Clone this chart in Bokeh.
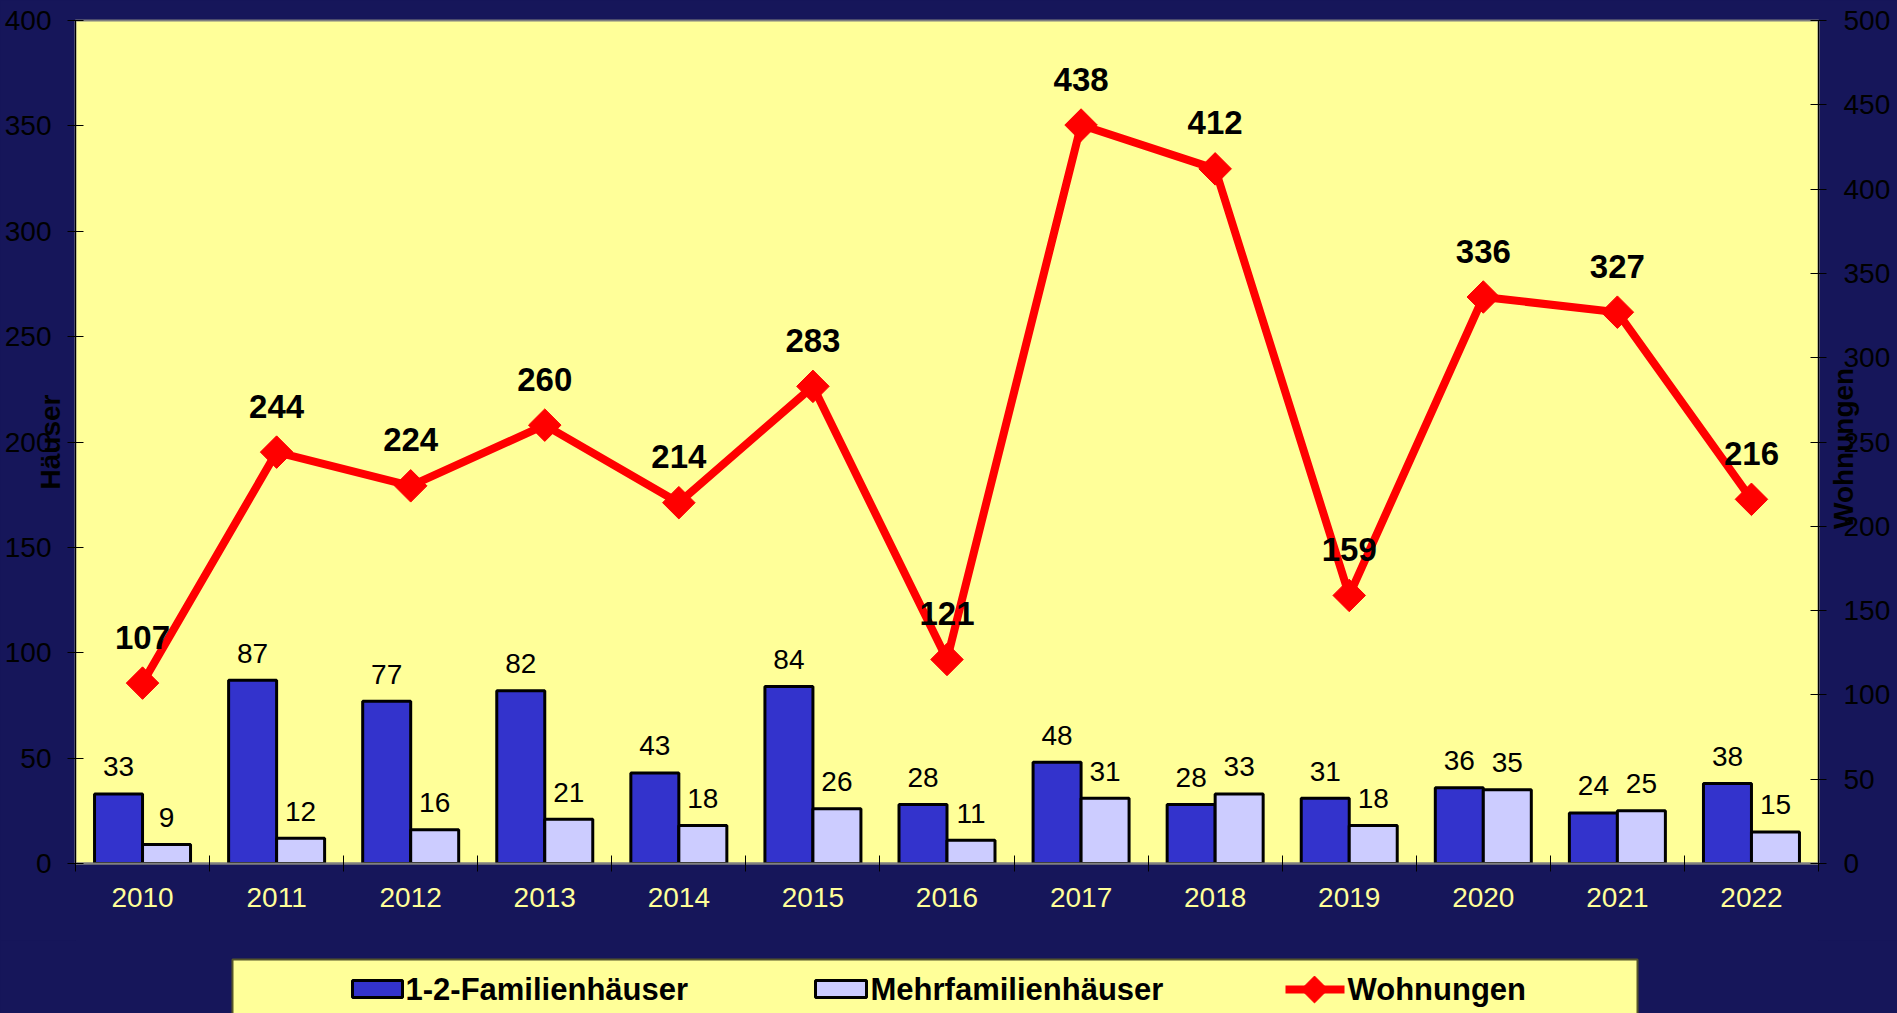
import math
from bokeh.plotting import figure
from bokeh.models import Range1d, LinearAxis, FixedTicker, ColumnDataSource
from bokeh.layouts import column
from bokeh.core.properties import value
from bokeh.embed import file_html
from bokeh.resources import INLINE

# ---------------- data ----------------
years = ["2010", "2011", "2012", "2013", "2014", "2015", "2016",
         "2017", "2018", "2019", "2020", "2021", "2022"]
ein_zwei = [33, 87, 77, 82, 43, 84, 28, 48, 28, 31, 36, 24, 38]
mehr = [9, 12, 16, 21, 18, 26, 11, 31, 33, 18, 35, 25, 15]
wohnungen = [107, 244, 224, 260, 214, 283, 121, 438, 412, 159, 336, 327, 216]
left_ticks = [0, 50, 100, 150, 200, 250, 300, 350, 400]
right_ticks = [0, 50, 100, 150, 200, 250, 300, 350, 400, 450, 500]
series_names = ["1-2-Familienhäuser", "Mehrfamilienhäuser", "Wohnungen"]
left_title = "Häuser"
right_title = "Wohnungen"

NAVY = "#16165A"
YELLOW = "#FFFF99"
BLUE = "#3333CC"
LIGHT = "#CCCCFF"
RED = "#FF0000"
FONT = "Liberation Sans"

W, H = 1897, 1013
MAIN_H = 940
BL, BR, BT = 75, 79, 20

n = len(years)
centers = [i + 0.5 for i in range(n)]
bw = 0.358
x_blue = [c - bw / 2 for c in centers]
x_light = [c + bw / 2 for c in centers]

src = ColumnDataSource(dict(
    xc=centers, xb=x_blue, xl=x_light, a=ein_zwei, b=mehr, w=wohnungen,
    at=[str(v) for v in ein_zwei], bt=[str(v) for v in mehr],
    wt=[str(v) for v in wohnungen],
))

p = figure(width=W, height=MAIN_H, output_backend="svg", toolbar_location=None,
           x_range=Range1d(0, n), y_range=Range1d(left_ticks[0], left_ticks[-1]),
           min_border_left=BL, min_border_right=BR, min_border_top=BT,
           min_border_bottom=MAIN_H - BT - 843,
           y_axis_location=None, x_axis_location=None)
p.extra_y_ranges = {"right": Range1d(right_ticks[0], right_ticks[-1])}
p.border_fill_color = NAVY
p.background_fill_color = YELLOW
p.outline_line_color = "#808080"
p.outline_line_width = 2
p.xgrid.visible = False
p.ygrid.visible = False

# axes
xaxis = LinearAxis(ticker=FixedTicker(ticks=centers, minor_ticks=list(range(n + 1))))
xaxis.major_label_overrides = {c: y for c, y in zip(centers, years)}
xaxis.major_tick_in = 0
xaxis.major_tick_out = 0
xaxis.minor_tick_in = 8
xaxis.minor_tick_out = 8
xaxis.minor_tick_line_color = "black"
xaxis.axis_line_color = "#808080"
xaxis.axis_line_width = 2
xaxis.major_label_text_color = YELLOW
xaxis.major_label_text_font = FONT
xaxis.major_label_text_font_size = "28px"
xaxis.major_label_standoff = 16
p.add_layout(xaxis, "below")

# right title: rotated to read bottom-to-top; the label is anchored at its
# start, so it is anchored at the axis start and pushed up with fixed spaces
right_label = right_title
can_orient = hasattr(LinearAxis, "axis_label_orientation")
can_align = hasattr(LinearAxis, "axis_label_align")
if can_orient and can_align:
    right_label = "\u00a0" * 43 + right_title

laxis = LinearAxis(ticker=FixedTicker(ticks=left_ticks), axis_label=left_title)
raxis = LinearAxis(ticker=FixedTicker(ticks=right_ticks), y_range_name="right",
                   axis_label=right_label)
for ax in (laxis, raxis):
    ax.major_tick_in = 8
    ax.major_tick_out = 8
    ax.minor_tick_line_color = None
    ax.major_tick_line_color = "black"
    ax.axis_line_color = "black"
    ax.major_label_text_color = "black"
    ax.major_label_text_font = FONT
    ax.major_label_text_font_size = "28px"
    ax.axis_label_text_font = FONT
    ax.axis_label_text_font_size = "28px"
    ax.axis_label_text_font_style = "bold"
    ax.axis_label_text_color = "black"
laxis.major_label_standoff = 16
raxis.major_label_standoff = 17
laxis.axis_label_standoff = -64
raxis.axis_label_standoff = -50
if can_orient:
    raxis.axis_label_orientation = math.pi / 2
if can_orient and can_align:
    raxis.axis_label_align = "start"
p.add_layout(laxis, "left")
p.add_layout(raxis, "right")

# bars
p.vbar(x="xb", top="a", bottom=0, width=bw, source=src,
       fill_color=BLUE, line_color="black", line_width=3)
p.vbar(x="xl", top="b", bottom=0, width=bw, source=src,
       fill_color=LIGHT, line_color="black", line_width=3)
p.text(x="xb", y="a", text="at", source=src, text_align="center",
       text_baseline="alphabetic", y_offset=-27, text_font=value(FONT),
       text_font_size="28px", text_color="black")
p.text(x="xl", y="b", text="bt", source=src, text_align="center",
       text_baseline="alphabetic", y_offset=-27, text_font=value(FONT),
       text_font_size="28px", text_color="black")

# line
p.line(x="xc", y="w", source=src, y_range_name="right",
       line_color=RED, line_width=8)
p.scatter(x="xc", y="w", source=src, y_range_name="right",
          marker="square", size=23, angle=math.pi / 4,
          fill_color=RED, line_color=RED)
p.text(x="xc", y="w", text="wt", source=src, y_range_name="right",
       text_align="center", text_baseline="alphabetic", y_offset=-46,
       text_font=value(FONT), text_font_size="33px", text_font_style="bold",
       text_color="black")

# ---------------- legend strip (page pixel coordinates) ----------------
lg = figure(width=W, height=H - MAIN_H, output_backend="svg",
            toolbar_location=None,
            x_range=Range1d(BL, W - BR), y_range=Range1d(H, MAIN_H),
            min_border_left=BL, min_border_right=BR, min_border_top=0,
            min_border_bottom=0, x_axis_location=None, y_axis_location=None)
lg.border_fill_color = NAVY
lg.background_fill_color = NAVY
lg.outline_line_color = None
lg.xgrid.visible = False
lg.ygrid.visible = False
lg.quad(left=232, right=1637, top=959, bottom=H + 20, fill_color=YELLOW,
        line_color="#55552A", line_width=2)
lg.quad(left=[352, 815], right=[402, 866], top=[980, 980], bottom=[997, 997],
        fill_color=[BLUE, LIGHT], line_color="black", line_width=3)
lg.line(x=[1285, 1344], y=[989, 989], line_color=RED, line_width=8)
lg.scatter(x=[1314], y=[989], marker="square", size=19, angle=math.pi / 4,
           fill_color=RED, line_color=RED)
lg.text(x=[405, 870, 1347], y=[989, 989, 989], text=series_names,
        text_align="left", text_baseline="middle", text_font=value(FONT),
        text_font_size="31px", text_font_style="bold", text_color="black")

layout = column(p, lg, spacing=0, styles={"background-color": NAVY})
open("out.html", "w").write(file_html(layout, INLINE))
